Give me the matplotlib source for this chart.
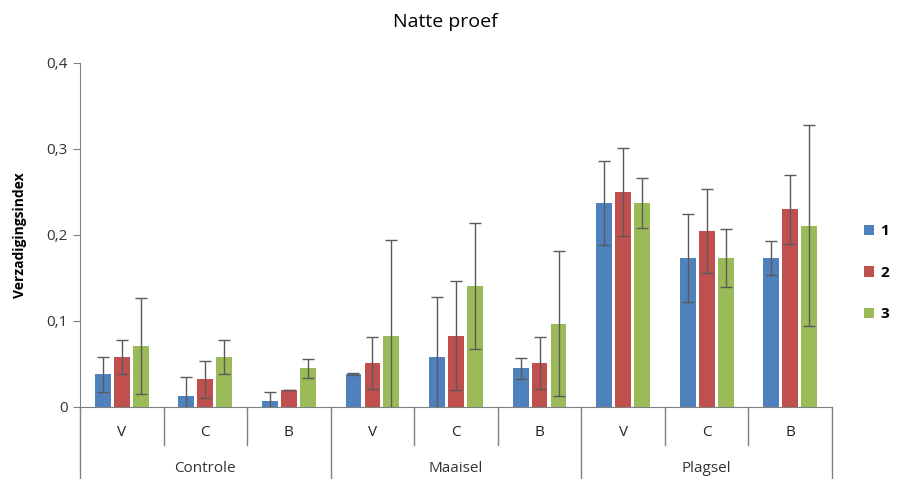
import matplotlib.pyplot as plt
import numpy as np

plt.rcParams['font.family'] = ['Open Sans', 'DejaVu Sans']

groups = ["Controle", "Maaisel", "Plagsel"]
subs = ["V", "C", "B"]
series = ["1", "2", "3"]
colors = ["#4F81BD", "#C0504D", "#9BBB59"]

# values per sub-category (Controle V,C,B, Maaisel V,C,B, Plagsel V,C,B)
vals_1 = [0.038, 0.013, 0.007, 0.038, 0.058, 0.045, 0.237, 0.173, 0.173]
vals_2 = [0.058, 0.032, 0.020, 0.051, 0.083, 0.051, 0.250, 0.205, 0.230]
vals_3 = [0.071, 0.058, 0.045, 0.083, 0.141, 0.097, 0.237, 0.173, 0.211]
err_1 = [0.020, 0.022, 0.010, 0.001, 0.070, 0.012, 0.049, 0.051, 0.020]
err_2 = [0.020, 0.022, 0.000, 0.030, 0.063, 0.030, 0.051, 0.049, 0.040]
err_3 = [0.056, 0.020, 0.011, 0.111, 0.073, 0.084, 0.029, 0.034, 0.117]

fig = plt.figure(figsize=(9.03, 4.79), dpi=100)
ax = fig.add_axes([80/903, 72/479, 752/903, 344/479])

x = np.arange(9) + 0.5
offs = [-0.227, 0, 0.227]
for vals, errs, off, col, lab in zip([vals_1, vals_2, vals_3], [err_1, err_2, err_3],
                                     offs, colors, series):
    ax.bar(x + off, vals, width=0.19, color=col, label=lab, zorder=2)
    ax.errorbar(x + off, vals, yerr=errs, fmt="none", ecolor="#5a5a5a",
                elinewidth=1, capsize=4, capthick=1, zorder=3)

ax.set_xlim(0, 9)
ax.set_ylim(0, 0.4)
ax.set_yticks([0, 0.1, 0.2, 0.3, 0.4])
ax.set_yticklabels(["0", "0,1", "0,2", "0,3", "0,4"], fontsize=11, color="#333333")
ax.tick_params(axis="y", direction="out", length=5, color="#808080", pad=4)
ax.set_xticks(x)
ax.set_xticklabels(subs * 3, fontsize=11, color="#222222")
ax.tick_params(axis="x", length=0, pad=13)

for s in ["top", "right"]:
    ax.spines[s].set_visible(False)
ax.spines["left"].set_color("#808080")
ax.spines["bottom"].set_color("#808080")

# category separators
for i in range(10):
    ybot = -0.209 if i % 3 == 0 else -0.11
    ax.plot([i, i], [0, ybot], transform=ax.get_xaxis_transform(), color="#808080",
            lw=1, clip_on=False)
for gi, g in enumerate(groups):
    ax.text(gi * 3 + 1.5, -0.178, g, transform=ax.get_xaxis_transform(),
            ha="center", va="center", fontsize=11, color="#333333")

ax.set_ylabel("Verzadigingsindex", fontsize=10, fontweight="bold", labelpad=14)
fig.text(445/903, 1 - 22/479, "Natte proef", ha="center", va="center", fontsize=14)

leg = ax.legend(loc="center left", bbox_to_anchor=(1.024, 0.39), frameon=False,
                handlelength=0.7, handleheight=0.7, labelspacing=1.8,
                prop={"size": 11, "weight": "bold"}, handletextpad=0.4)

fig.savefig("out.png", dpi=100)
